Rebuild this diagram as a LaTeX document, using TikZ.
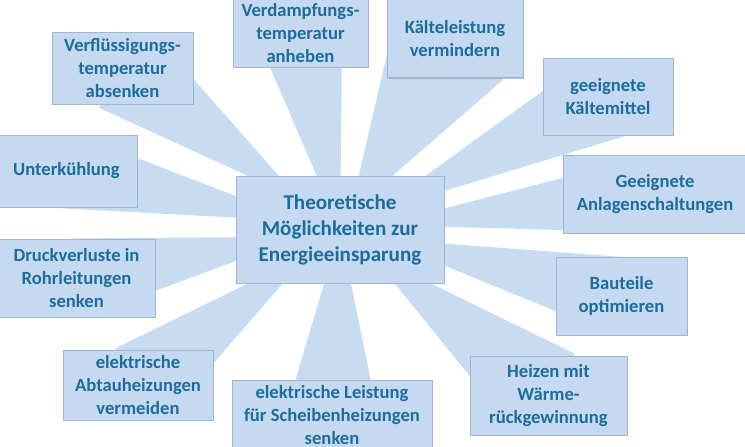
\documentclass[tikz,border=0pt]{standalone}
\usepackage{fontspec}
\setmainfont{Carlito}
\usepackage{tikz}
\usetikzlibrary{calc,backgrounds,shadows}
\usepackage{xcolor}
\definecolor{rayblue}{RGB}{199,220,241}
\definecolor{boxblue}{RGB}{197,218,240}
\definecolor{boxline}{RGB}{160,182,206}
\definecolor{textblue}{RGB}{28,108,158}

\begin{document}
\begin{tikzpicture}[x=0.02cm,y=-0.02cm,
		idea/.style={draw=boxline, fill=boxblue, align=center, inner sep=1pt, text=textblue,
			font=\bfseries\fontsize{10.6}{13}\selectfont,
			drop shadow={shadow xshift=0.7pt, shadow yshift=-0.7pt, fill=black!45, opacity=0.5}},
		goal/.style={idea, font=\bfseries\fontsize{12}{14.8}\selectfont},
		ray/.style={fill=rayblue}]
		
		\useasboundingbox (0,0) rectangle (745,447);
		
		\node[goal, minimum width=4.16cm, minimum height=2.14cm] (c) at (340,229.5) {Theoretische\\Möglichkeiten zur\\Energieeinsparung};
		
		\node[idea, minimum width=2.82cm, minimum height=1.44cm] (vf) at (122.5,68) {Verflüssigungs-\\temperatur\\absenken};
		\node[idea, minimum width=2.82cm, minimum height=1.44cm] (uk) at (66.5,171) {Unterkühlung};
		\node[idea, minimum width=2.70cm, minimum height=1.36cm] (vd) at (300.5,33) {Verdampfungs-\\temperatur\\anheben};
		\node[idea, minimum width=2.72cm, minimum height=1.56cm] (kl) at (455,38.5) {Kälteleistung\\vermindern};
		\node[idea, minimum width=2.60cm, minimum height=1.54cm] (km) at (608,96.5) {geeignete\\Kältemittel};
		\node[idea, minimum width=3.68cm, minimum height=1.56cm] (an) at (655,194) {Geeignete\\Anlagenschaltungen};
		\node[idea, minimum width=2.62cm, minimum height=1.56cm] (bt) at (621.5,296) {Bauteile\\optimieren};
		\node[idea, minimum width=3.14cm, minimum height=1.58cm] (hz) at (548.5,395.5) {Heizen mit\\Wärme-\\rückgewinnung};
		\node[idea, minimum width=4.00cm, minimum height=1.40cm] (sh) at (332,415) {elektrische Leistung\\für Scheibenheizungen\\senken};
		\node[idea, minimum width=3.00cm, minimum height=1.40cm] (ab) at (138,385) {elektrische\\Abtauheizungen\\vermeiden};
		\node[idea, minimum width=3.14cm, minimum height=1.56cm] (dv) at (76.5,278) {Druckverluste in\\Rohrleitungen\\senken};
		
		% rays behind the boxes
		\begin{scope}[on background layer]
			\foreach \n/\r/\a in {vf/1.0cm/12, uk/0.8cm/9, vd/0cm/12, kl/0.4cm/18, km/0.8cm/9.5, an/0.8cm/8,
				bt/0.8cm/9, hz/0.8cm/12.5, sh/0cm/14, ab/0.8cm/11.5, dv/0.8cm/10}{
				\coordinate (a) at ($(c.center)!\r!(\n.center)$);
				\fill[ray] (a) -- ($(a)!1!\a:(\n.center)$) -- ($(a)!1!-\a:(\n.center)$) -- cycle;
			}
		\end{scope}
		
	\end{tikzpicture}
\end{document}
